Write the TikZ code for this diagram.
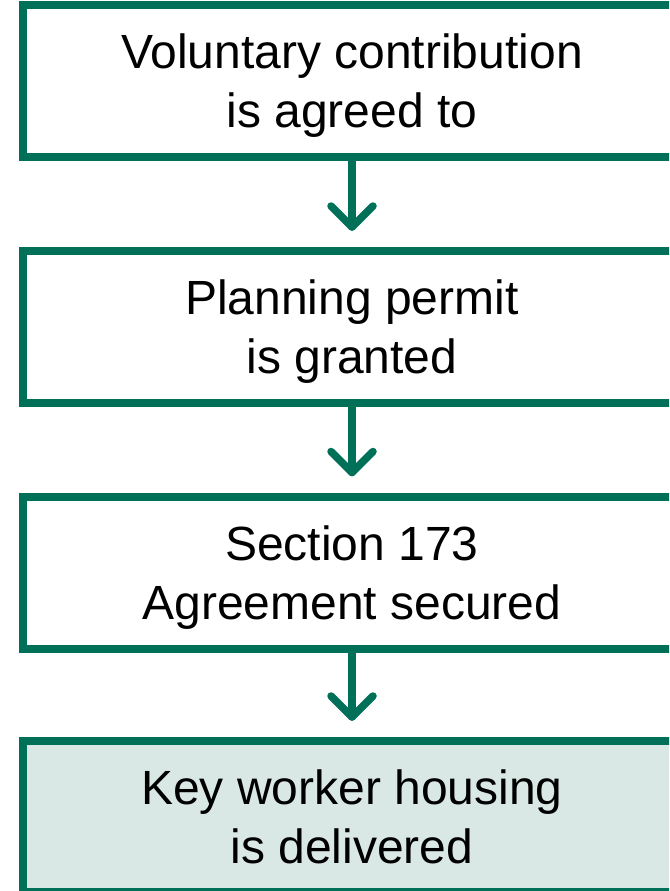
\documentclass[tikz,border=0pt]{standalone}
\usepackage{fontspec}
\setmainfont{Liberation Sans}
\usetikzlibrary{calc}
\definecolor{dgreen}{RGB}{0,112,88}
\definecolor{lgreen}{RGB}{217,232,228}
\tikzset{
  stepbox/.style={draw=dgreen, line width=8pt, rectangle, minimum width=658pt, minimum height=152pt,
    align=center, font=\fontsize{48pt}{59pt}\selectfont, inner sep=0pt, text=black, text depth=0pt},
  arrowline/.style={draw=dgreen, line width=7.5pt, line cap=round, line join=round}
}
\begin{document}
\begin{tikzpicture}[x=1pt,y=-1pt]
\useasboundingbox (0,0) rectangle (669,891);
\clip (0,0) rectangle (669,891);
\node[stepbox, fill=white] (b1) at (352,81) {Voluntary contribution\\is agreed to};
\node[stepbox, fill=white] (b2) at (352,327) {Planning permit\\is granted};
\node[stepbox, fill=white] (b3) at (352,572.5) {Section 173\\Agreement secured};
\node[stepbox, fill=lgreen, minimum height=151pt] (b4) at (352,816.5) {Key worker housing\\is delivered};
\foreach \a/\b in {b1/b2, b2/b3, b3/b4}{
  \coordinate (t) at ($(\b.north)+(0,-20)$);
  \draw[arrowline] (\a.south) -- (t);
  \draw[arrowline] ($(t)+(-21,-21)$) -- (t) -- ($(t)+(21,-21)$);
}
\end{tikzpicture}
\end{document}
